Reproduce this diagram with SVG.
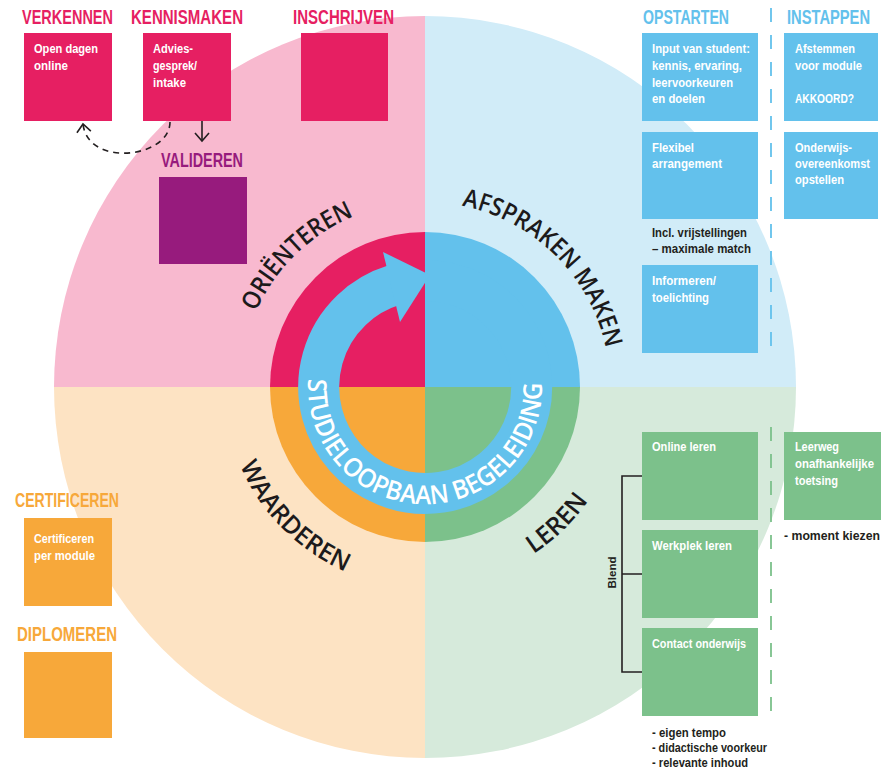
<svg xmlns="http://www.w3.org/2000/svg" xmlns:xlink="http://www.w3.org/1999/xlink" width="881" height="774" viewBox="0 0 881 774">
<style>
text{font-family:"Liberation Sans",Arial,sans-serif;font-weight:bold}
.ttl{font-size:19.5px}
.bx{font-size:12.5px;fill:#ffffff}
.dk{font-size:12.5px;fill:#231f20}
.arc{font-family:"Open Sans","Liberation Sans",sans-serif;font-weight:600;font-size:25px;fill:#1c1a1b}
.ring{font-family:"Open Sans","Liberation Sans",sans-serif;font-weight:600;font-size:26px;fill:#ffffff}
.pk{fill:#e61f62}
.pu{fill:#971b7d}
.bl{fill:#63c1ec}
.gr{fill:#7cc18b}
.or{fill:#f7a83a}
.conn{fill:none;stroke:#231f20;stroke-width:1.6}
</style>
<defs>
<marker id="chev" viewBox="-10 -9 12 18" refX="0" refY="0" markerWidth="12" markerHeight="18" markerUnits="userSpaceOnUse" orient="auto">
<path d="M-8,-7 L0,0 L-8,7" fill="none" stroke="#231f20" stroke-width="1.6"/>
</marker>
<path id="pOri" d="M256,311.8 A185,185 0 0 1 355.7,215.5"/>
<path id="pAfs" d="M461.9,205.7 A185,185 0 0 1 606,348.5"/>
<path id="pWaa" d="M240,465.5 A201,201 0 0 0 346.5,572"/>
<path id="pLer" d="M533.4,553.9 A199,199 0 0 0 589,499.7"/>
<path id="pRing" d="M308.3,378.8 A117,117 0 1 0 541.7,378.8"/>
</defs>

<g id="wheel">
<path d="M425,387 L54,387 A371,371 0 0 1 425,16 Z" fill="#f8b9cf"/>
<path d="M425,387 L425,16 A371,371 0 0 1 796,387 Z" fill="#d1ecf8"/>
<path d="M425,387 L796,387 A371,371 0 0 1 425,758 Z" fill="#d6eadb"/>
<path d="M425,387 L425,758 A371,371 0 0 1 54,387 Z" fill="#fde3c3"/>
<path d="M425,387 L270,387 A155,155 0 0 1 425,232 Z" class="pk"/>
<path d="M425,387 L425,232 A155,155 0 0 1 580,387 Z" class="bl"/>
<path d="M425,387 L580,387 A155,155 0 0 1 425,542 Z" class="gr"/>
<path d="M425,387 L425,542 A155,155 0 0 1 270,387 Z" class="or"/>
<path d="M425,280.5 A106.5,106.5 0 1 1 393.9,285.2" fill="none" stroke="#63c1ec" stroke-width="41"/>
<polygon points="383,252 430,275 400,322" class="bl"/>
<text class="ring"><textPath xlink:href="#pRing" href="#pRing" textLength="380" lengthAdjust="spacingAndGlyphs">STUDIELOOPBAAN BEGELEIDING</textPath></text>
</g>

<g id="label-orienteren"><text class="arc"><textPath xlink:href="#pOri" href="#pOri" textLength="140" lengthAdjust="spacingAndGlyphs">ORIËNTEREN</textPath></text></g>
<g id="label-afspraken"><text class="arc"><textPath xlink:href="#pAfs" href="#pAfs" textLength="214" lengthAdjust="spacingAndGlyphs">AFSPRAKEN MAKEN</textPath></text></g>
<g id="label-waarderen"><text class="arc"><textPath xlink:href="#pWaa" href="#pWaa" textLength="153" lengthAdjust="spacingAndGlyphs">WAARDEREN</textPath></text></g>
<g id="label-leren"><text class="arc"><textPath xlink:href="#pLer" href="#pLer" textLength="77" lengthAdjust="spacingAndGlyphs">LEREN</textPath></text></g>

<g id="connectors">
<path class="conn" d="M170,122 C170,158 88,168 83,124" stroke-dasharray="6 5" marker-end="url(#chev)"/>
<path class="conn" d="M202,121 V141" marker-end="url(#chev)"/>
<line x1="771" y1="8" x2="771" y2="354" stroke="#63c1ec" stroke-width="1.8" stroke-dasharray="14 13"/>
<line x1="771" y1="427" x2="771" y2="718" stroke="#7cc18b" stroke-width="1.8" stroke-dasharray="14 13"/>
<path class="conn" d="M642,476 H622 V672 H642 M622,574 H642"/>
</g>

<g id="verkennen">
<text class="ttl pk" x="22" y="24" textLength="91" lengthAdjust="spacingAndGlyphs">VERKENNEN</text>
<rect x="24" y="33" width="88" height="88" class="pk"/>
<text class="bx" x="34" y="53" textLength="64" lengthAdjust="spacingAndGlyphs">Open dagen</text>
<text class="bx" x="34" y="70" textLength="34" lengthAdjust="spacingAndGlyphs">online</text>
</g>
<g id="kennismaken">
<text class="ttl pk" x="131" y="24" textLength="112" lengthAdjust="spacingAndGlyphs">KENNISMAKEN</text>
<rect x="143" y="33" width="88" height="88" class="pk"/>
<text class="bx" x="153" y="53" textLength="40" lengthAdjust="spacingAndGlyphs">Advies-</text>
<text class="bx" x="153" y="70" textLength="44" lengthAdjust="spacingAndGlyphs">gesprek/</text>
<text class="bx" x="153" y="87" textLength="33" lengthAdjust="spacingAndGlyphs">intake</text>
</g>
<g id="inschrijven">
<text class="ttl pk" x="293" y="24" textLength="101" lengthAdjust="spacingAndGlyphs">INSCHRIJVEN</text>
<rect x="301" y="33" width="87" height="88" class="pk"/>
</g>
<g id="valideren">
<text class="ttl pu" x="161" y="167" textLength="82" lengthAdjust="spacingAndGlyphs">VALIDEREN</text>
<rect x="159" y="177" width="88" height="87" class="pu"/>
</g>

<g id="opstarten">
<text class="ttl bl" x="643" y="24" textLength="86" lengthAdjust="spacingAndGlyphs">OPSTARTEN</text>
<rect x="642" y="33" width="116" height="88" class="bl"/>
<text class="bx" x="652" y="53" textLength="98" lengthAdjust="spacingAndGlyphs">Input van student:</text>
<text class="bx" x="652" y="70" textLength="90" lengthAdjust="spacingAndGlyphs">kennis, ervaring,</text>
<text class="bx" x="652" y="87" textLength="81" lengthAdjust="spacingAndGlyphs">leervoorkeuren</text>
<text class="bx" x="652" y="103" textLength="53" lengthAdjust="spacingAndGlyphs">en doelen</text>
</g>
<g id="flexibel-arrangement">
<rect x="642" y="132" width="116" height="87" class="bl"/>
<text class="bx" x="652" y="152" textLength="42" lengthAdjust="spacingAndGlyphs">Flexibel</text>
<text class="bx" x="652" y="168" textLength="70" lengthAdjust="spacingAndGlyphs">arrangement</text>
<text class="dk" x="652" y="237" textLength="95" lengthAdjust="spacingAndGlyphs">Incl. vrijstellingen</text>
<text class="dk" x="652" y="253" textLength="99" lengthAdjust="spacingAndGlyphs">– maximale match</text>
</g>
<g id="informeren">
<rect x="642" y="265" width="116" height="88" class="bl"/>
<text class="bx" x="652" y="285" textLength="64" lengthAdjust="spacingAndGlyphs">Informeren/</text>
<text class="bx" x="652" y="302" textLength="57" lengthAdjust="spacingAndGlyphs">toelichting</text>
</g>
<g id="instappen">
<text class="ttl bl" x="787" y="24" textLength="83" lengthAdjust="spacingAndGlyphs">INSTAPPEN</text>
<rect x="784" y="33" width="94" height="88" class="bl"/>
<text class="bx" x="795" y="53" textLength="60" lengthAdjust="spacingAndGlyphs">Afstemmen</text>
<text class="bx" x="795" y="70" textLength="67" lengthAdjust="spacingAndGlyphs">voor module</text>
<text class="bx" x="795" y="103" textLength="59" lengthAdjust="spacingAndGlyphs">AKKOORD?</text>
</g>
<g id="onderwijsovereenkomst">
<rect x="784" y="132" width="94" height="87" class="bl"/>
<text class="bx" x="795" y="152" textLength="57" lengthAdjust="spacingAndGlyphs">Onderwijs-</text>
<text class="bx" x="795" y="168" textLength="75" lengthAdjust="spacingAndGlyphs">overeenkomst</text>
<text class="bx" x="795" y="184" textLength="49" lengthAdjust="spacingAndGlyphs">opstellen</text>
</g>

<g id="online-leren">
<rect x="642" y="432" width="116" height="88" class="gr"/>
<text class="bx" x="652" y="451" textLength="64" lengthAdjust="spacingAndGlyphs">Online leren</text>
</g>
<g id="werkplek-leren">
<rect x="642" y="530" width="116" height="88" class="gr"/>
<text class="bx" x="652" y="550" textLength="80" lengthAdjust="spacingAndGlyphs">Werkplek leren</text>
</g>
<g id="contact-onderwijs">
<rect x="642" y="628" width="116" height="88" class="gr"/>
<text class="bx" x="652" y="648" textLength="94" lengthAdjust="spacingAndGlyphs">Contact onderwijs</text>
<text class="dk" x="652" y="737" textLength="74" lengthAdjust="spacingAndGlyphs">- eigen tempo</text>
<text class="dk" x="652" y="752" textLength="115" lengthAdjust="spacingAndGlyphs">- didactische voorkeur</text>
<text class="dk" x="652" y="767" textLength="96" lengthAdjust="spacingAndGlyphs">- relevante inhoud</text>
</g>
<g id="blend">
<text class="dk" transform="translate(616,572.5) rotate(-90)" x="0" y="0" text-anchor="middle" style="font-size:11px" textLength="32" lengthAdjust="spacingAndGlyphs">Blend</text>
</g>
<g id="leerweg-toetsing">
<rect x="784" y="432" width="97" height="88" class="gr"/>
<text class="bx" x="795" y="451" textLength="44" lengthAdjust="spacingAndGlyphs">Leerweg</text>
<text class="bx" x="795" y="468" textLength="79" lengthAdjust="spacingAndGlyphs">onafhankelijke</text>
<text class="bx" x="795" y="485" textLength="43" lengthAdjust="spacingAndGlyphs">toetsing</text>
<text class="dk" x="784" y="540" textLength="96" lengthAdjust="spacingAndGlyphs">- moment kiezen</text>
</g>

<g id="certificeren">
<text class="ttl or" x="15" y="507" textLength="104" lengthAdjust="spacingAndGlyphs">CERTIFICEREN</text>
<rect x="24" y="518" width="88" height="88" class="or"/>
<text class="bx" x="34" y="543" textLength="60" lengthAdjust="spacingAndGlyphs">Certificeren</text>
<text class="bx" x="34" y="560" textLength="61" lengthAdjust="spacingAndGlyphs">per module</text>
</g>
<g id="diplomeren">
<text class="ttl or" x="17" y="641" textLength="100" lengthAdjust="spacingAndGlyphs">DIPLOMEREN</text>
<rect x="24" y="652" width="88" height="86" class="or"/>
</g>
</svg>
